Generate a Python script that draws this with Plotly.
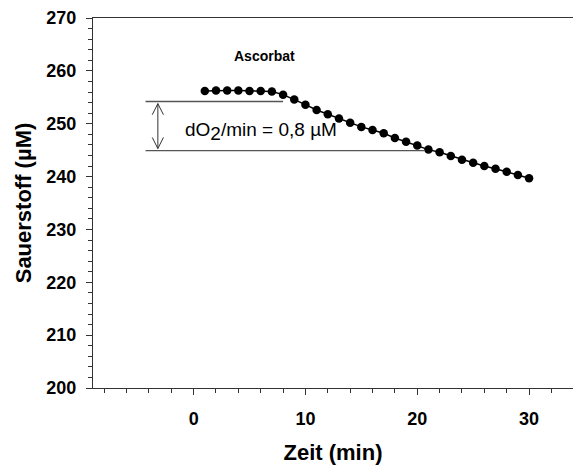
import plotly.graph_objects as go

# Data
zeit_min = list(range(1, 31))
sauerstoff_uM = [256.2, 256.3, 256.3, 256.3, 256.2, 256.2, 256.1, 255.5, 254.6, 253.6,
                 252.6, 251.8, 251.0, 250.2, 249.4, 248.8, 248.2, 247.3, 246.6, 245.9,
                 245.1, 244.6, 243.9, 243.2, 242.6, 242.0, 241.5, 240.9, 240.3, 239.7]

x_ticks = [0, 10, 20, 30]
y_ticks = [200, 210, 220, 230, 240, 250, 260, 270]

# Rate annotation guide levels
upper_level = 254.2
lower_level = 244.9
guide_start = -4.3
upper_end = 8.0
lower_end = 20.6
arrow_x = -3.2
head_dx = 0.5
head_dy = 2.1

fig = go.Figure()
fig.add_trace(go.Scatter(
    x=zeit_min, y=sauerstoff_uM, mode="lines+markers",
    line=dict(color="black", width=1.5),
    marker=dict(color="black", size=8.5),
    showlegend=False, hoverinfo="skip"))

shapes = []
gray = "#555555"
shapes.append(dict(type="line", xref="x", yref="y", x0=guide_start, x1=upper_end,
                   y0=upper_level, y1=upper_level, line=dict(color=gray, width=1.3)))
shapes.append(dict(type="line", xref="x", yref="y", x0=guide_start, x1=lower_end,
                   y0=lower_level, y1=lower_level, line=dict(color=gray, width=1.3)))
top = upper_level - 0.4
bot = lower_level + 0.4
arrow_col = "#333333"
shapes.append(dict(type="line", xref="x", yref="y", x0=arrow_x, x1=arrow_x,
                   y0=bot, y1=top, line=dict(color=arrow_col, width=1)))
for sx in (-head_dx, head_dx):
    shapes.append(dict(type="line", xref="x", yref="y", x0=arrow_x, x1=arrow_x + sx,
                       y0=top, y1=top - head_dy, line=dict(color=arrow_col, width=1)))
    shapes.append(dict(type="line", xref="x", yref="y", x0=arrow_x, x1=arrow_x + sx,
                       y0=bot, y1=bot + head_dy, line=dict(color=arrow_col, width=1)))

font_family = "Liberation Sans, Arial, sans-serif"
annotations = [
    dict(x=3.4, y=262.8, xref="x", yref="y", text="<b>Ascorbat</b>", showarrow=False,
         xanchor="left", yanchor="middle", font=dict(family=font_family, size=14, color="black")),
    dict(x=-0.96, y=248.6, xref="x", yref="y",
         text="dO<sub><span style=\"font-size:19px\">2</span></sub>/min = 0,8 µM", showarrow=False,
         xanchor="left", yanchor="middle", font=dict(family=font_family, size=19, color="black")),
]

axis_col = "#333333"
tickfont = dict(size=18, family=font_family, color="black", weight="bold")
fig.update_layout(
    width=573, height=466,
    margin=dict(l=93, r=0, t=18, b=78),
    paper_bgcolor="white", plot_bgcolor="white",
    font=dict(family=font_family, color="black"),
    shapes=shapes, annotations=annotations,
    xaxis=dict(range=[-9, 33.93], tickvals=x_ticks, ticks="outside", ticklen=6, tickwidth=1,
               tickcolor=axis_col, showline=True, linecolor=axis_col, linewidth=1.3, mirror=True,
               showgrid=False, zeroline=False,
               minor=dict(dtick=2, ticks="outside", ticklen=4, tickcolor=axis_col, showgrid=False),
               tickfont=tickfont, ticklabelstandoff=8, tickformat="d",
               title=dict(text="<b>Zeit (min)</b>", font=dict(size=22, family=font_family), standoff=16)),
    yaxis=dict(range=[200, 270], tickvals=y_ticks, ticks="outside", ticklen=6, tickwidth=1,
               tickcolor=axis_col, showline=True, linecolor=axis_col, linewidth=1.3,
               showgrid=False, zeroline=False,
               minor=dict(dtick=2, ticks="outside", ticklen=4, tickcolor=axis_col, showgrid=False),
               tickfont=tickfont, ticklabelstandoff=6, tickformat="d",
               title=dict(text="<b>Sauerstoff (µM)</b>", font=dict(size=22, family=font_family), standoff=8)),
)

fig.write_html("out.html")
